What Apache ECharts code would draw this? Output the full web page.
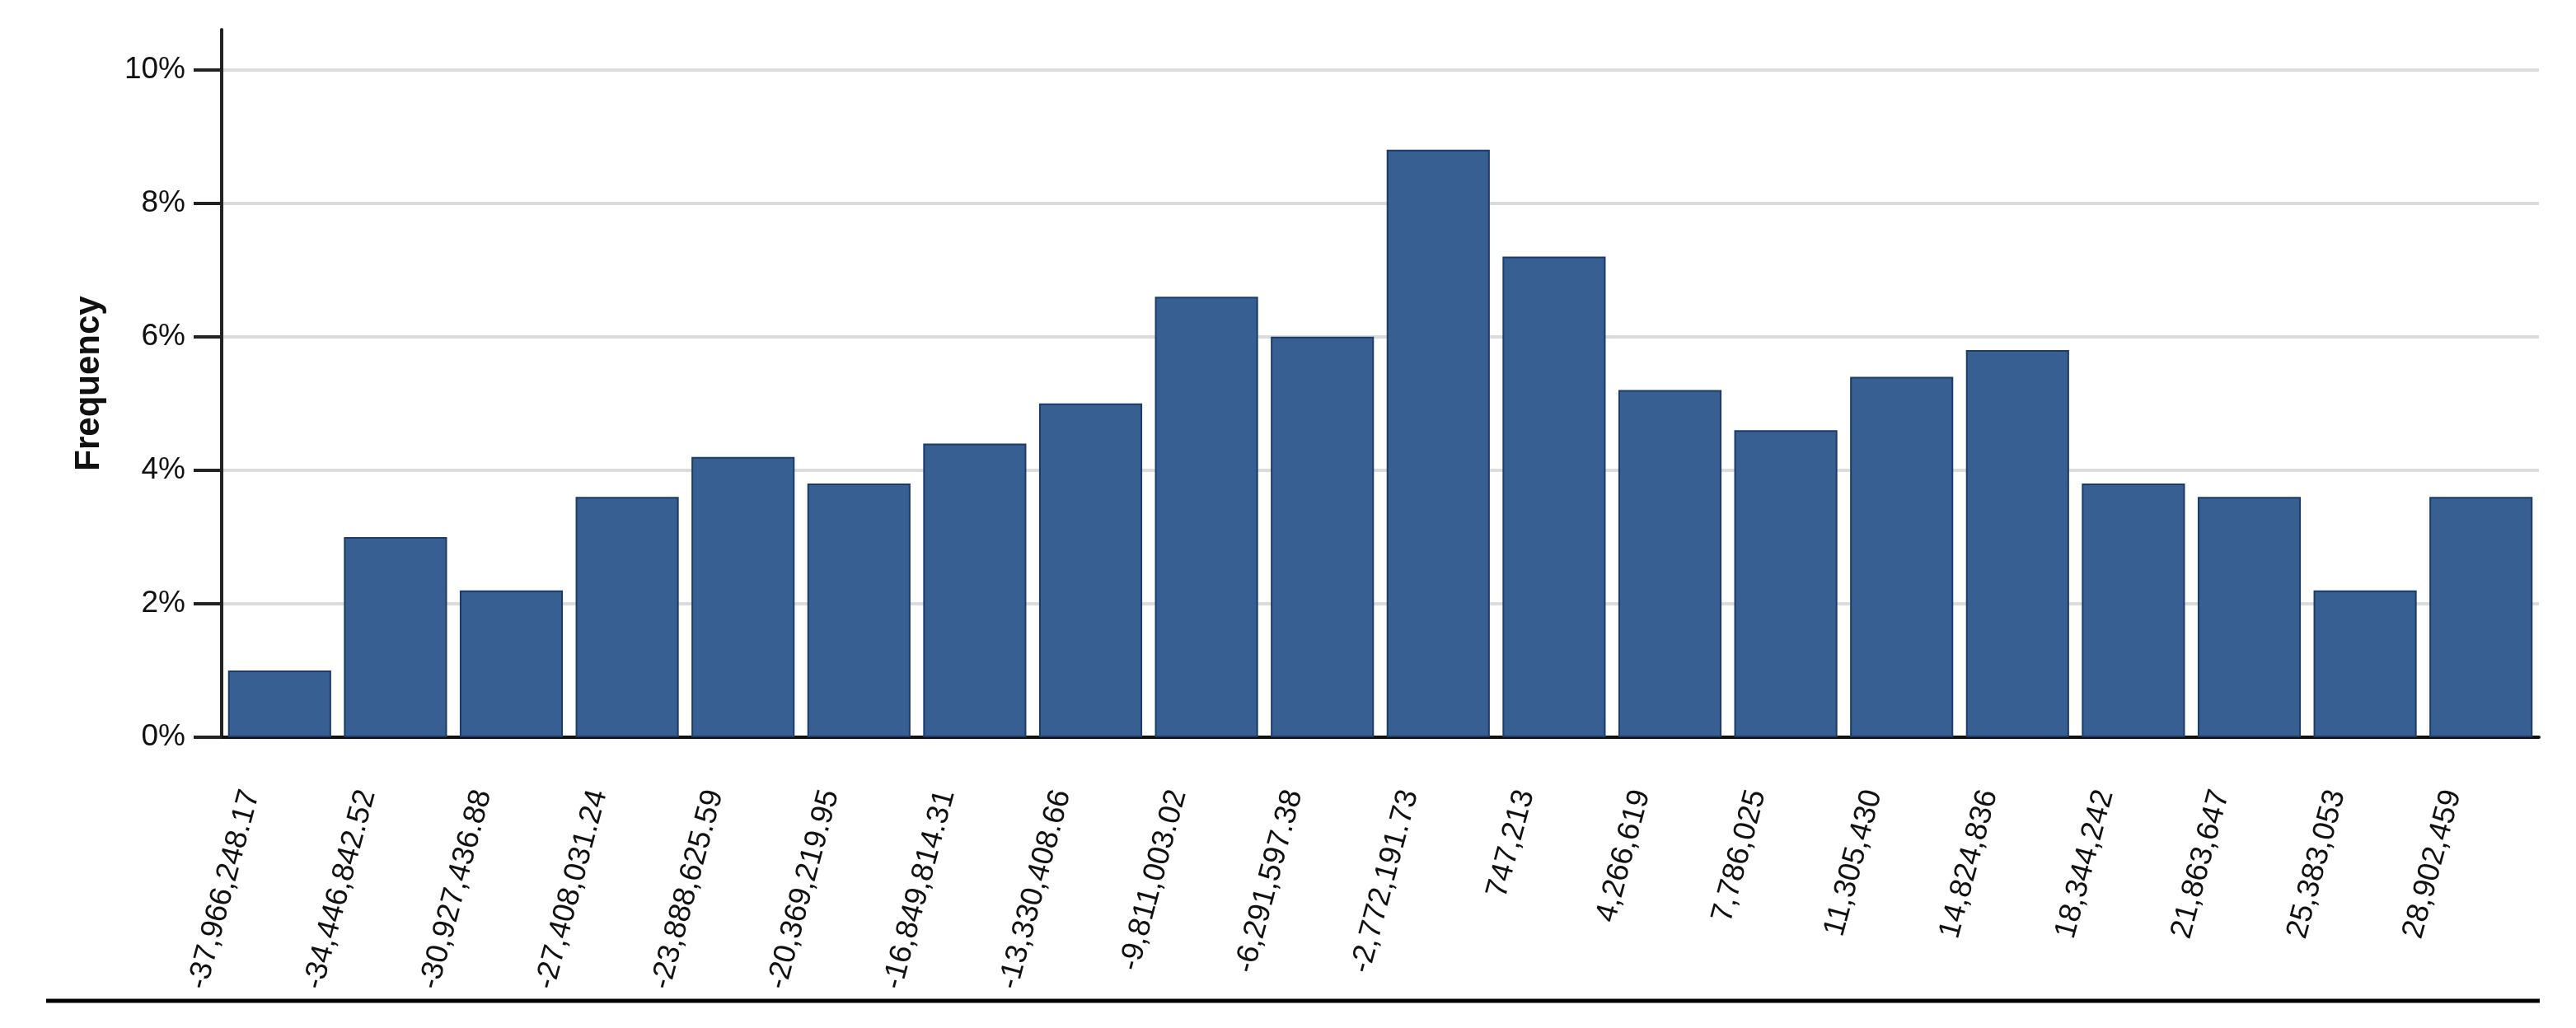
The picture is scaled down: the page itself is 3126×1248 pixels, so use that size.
<!DOCTYPE html>
<html>
<head>
<meta charset="utf-8">
<script src="https://cdn.jsdelivr.net/npm/echarts@6/dist/echarts.min.js"></script>
<style>
  html, body { margin: 0; padding: 0; background: #fff; }
  #chart { width: 3126px; height: 1248px; }
</style>
</head>
<body>
<div id="chart"></div>
<script>
// bin lower bounds, as printed under the bars
const binLabels = [
  '-37,966,248.17', '-34,446,842.52', '-30,927,436.88', '-27,408,031.24',
  '-23,888,625.59', '-20,369,219.95', '-16,849,814.31', '-13,330,408.66',
  '-9,811,003.02', '-6,291,597.38', '-2,772,191.73', '747,213',
  '4,266,619', '7,786,025', '11,305,430', '14,824,836',
  '18,344,242', '21,863,647', '25,383,053', '28,902,459'
];
// frequency in percent
const frequency = [
  1.0, 3.0, 2.2, 3.6, 4.2, 3.8, 4.4, 5.0, 6.6, 6.0,
  8.8, 7.2, 5.2, 4.6, 5.4, 5.8, 3.8, 3.6, 2.2, 3.6
];
const yTicks = [0, 2, 4, 6, 8, 10];

const font = 'Liberation Sans';
const chart = echarts.init(document.getElementById('chart'));

chart.setOption({
  animation: false,
  backgroundColor: '#fff',
  grid: { left: 269, right: 45, top: 36, bottom: 353 },
  xAxis: {
    type: 'category',
    data: binLabels,
    axisLine: { lineStyle: { color: '#111', width: 4 } },
    axisTick: { alignWithLabel: true, length: 36, lineStyle: { color: '#222', width: 3 } },
    axisLabel: {
      rotate: 75,
      interval: 0,
      margin: 74,
      verticalAlign: 'bottom',
      lineHeight: 72,
      color: '#111',
      fontFamily: font,
      fontSize: 37
    }
  },
  yAxis: {
    type: 'value',
    min: 0,
    max: 10.6,
    interval: 2,
    name: 'Frequency',
    nameLocation: 'middle',
    nameGap: 140,
    nameTextStyle: { fontFamily: font, fontWeight: 'bold', fontSize: 42, color: '#111' },
    axisLine: { show: true, lineStyle: { color: '#222', width: 4 } },
    axisTick: { show: true, length: 34, customValues: yTicks, lineStyle: { color: '#222', width: 4 } },
    axisLabel: {
      customValues: yTicks,
      margin: 44,
      color: '#111',
      fontFamily: font,
      fontSize: 37,
      formatter: '{value}%'
    },
    splitLine: {
      show: true,
      showMinLine: false,
      lineStyle: { color: '#dcdcdc', width: 4 }
    }
  },
  series: [{
    type: 'bar',
    data: frequency,
    barCategoryGap: '11%',
    itemStyle: { color: '#375f91', borderColor: '#1b3c6b', borderWidth: 2 }
  }],
  graphic: [{
    type: 'line',
    shape: { x1: 56, y1: 1215, x2: 3082, y2: 1215 },
    style: { stroke: '#000', lineWidth: 5 }
  }]
});
</script>
</body>
</html>
